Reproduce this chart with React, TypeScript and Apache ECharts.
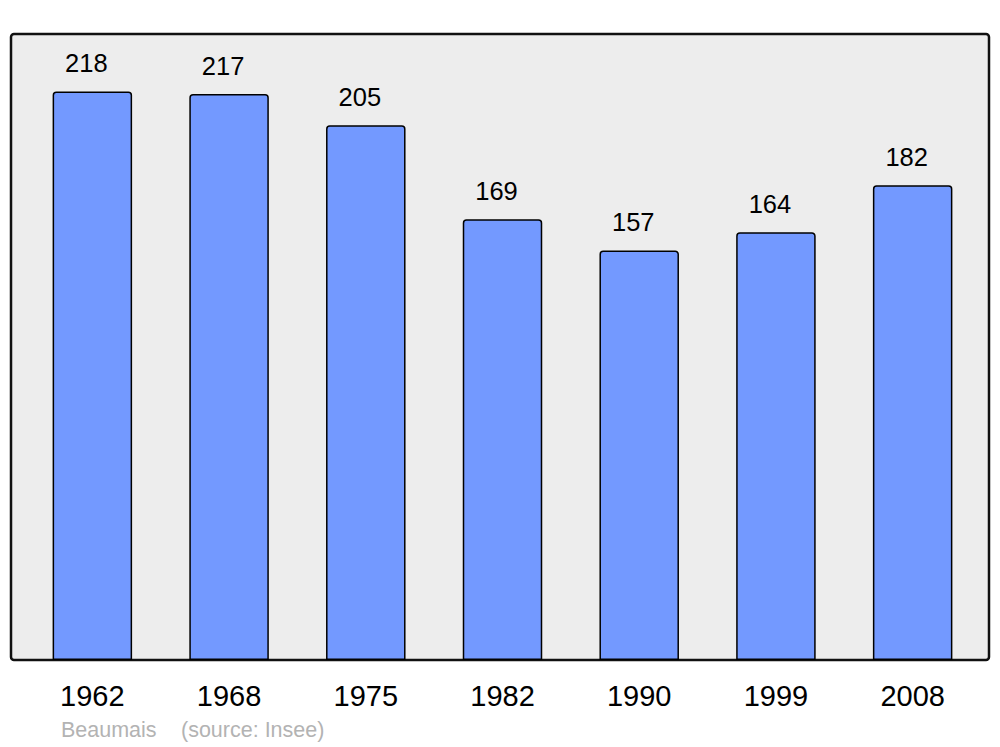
import React, { useEffect, useRef } from "react";
import * as echarts from "echarts";

const years: string[] = ["1962", "1968", "1975", "1982", "1990", "1999", "2008"];
const population: number[] = [218, 217, 205, 169, 157, 164, 182];
const townName = "Beaumais";
const sourceText = "(source: Insee)";

const FONT = "'Liberation Sans', Arial, sans-serif";

export default function App() {
  const ref = useRef<HTMLDivElement>(null);
  useEffect(() => {
    document.body.style.margin = "0";
    if (!ref.current) return;
    const chart = echarts.init(ref.current, undefined, { renderer: "svg" });
    chart.setOption({
      animation: false,
      backgroundColor: "#ffffff",
      grid: { left: 24, right: 19, top: 34, bottom: 87 },
      xAxis: {
        type: "category",
        data: years,
        boundaryGap: true,
        axisLine: { show: false },
        axisTick: { show: false },
        axisLabel: {
          fontSize: 29,
          color: "#000",
          fontFamily: FONT,
          margin: 21,
          offset: [-4.5, 0],
        },
      },
      yAxis: {
        type: "value",
        min: 0,
        max: 240,
        show: false,
        splitLine: { show: false },
      },
      graphic: [
        {
          type: "rect",
          z: -10,
          shape: { x: 11, y: 34, width: 978, height: 626, r: 3 },
          style: { fill: "#ededed", stroke: "#111111", lineWidth: 2.5 },
          silent: true,
        },
        {
          type: "text",
          x: 61,
          y: 730,
          style: {
            text: townName,
            fill: "#b3b3b3",
            fontSize: 21.5,
            fontFamily: FONT,
            verticalAlign: "middle",
          },
        },
        {
          type: "text",
          x: 181,
          y: 730,
          style: {
            text: sourceText,
            fill: "#b3b3b3",
            fontSize: 21.5,
            fontFamily: FONT,
            verticalAlign: "middle",
          },
        },
      ],
      series: [
        {
          type: "bar",
          data: population,
          barWidth: 79.5,
          itemStyle: {
            color: "#7399ff",
            borderColor: "#000000",
            borderWidth: 1.5,
            borderRadius: [3, 3, 0, 0],
          },
          label: {
            show: true,
            position: "top",
            distance: 15,
            offset: [-6, 0],
            fontSize: 25.5,
            color: "#000",
            fontFamily: FONT,
          },
        },
      ],
    });
    return () => chart.dispose();
  }, []);
  return <div ref={ref} style={{ width: 1000, height: 747 }} />;
}
